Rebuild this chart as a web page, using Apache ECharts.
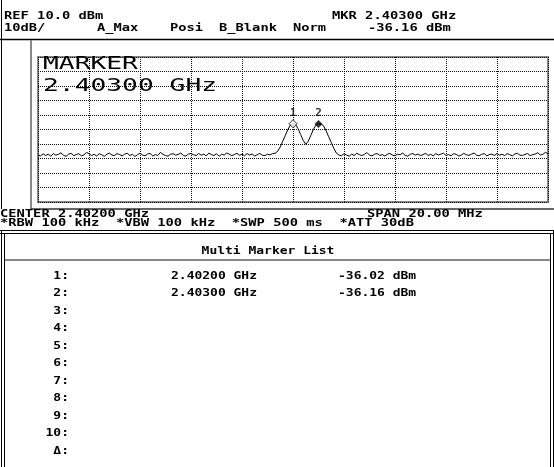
<!DOCTYPE html>
<html>
<head>
<meta charset="utf-8">
<script src="https://cdn.jsdelivr.net/npm/echarts@6/dist/echarts.min.js"></script>
<style>
html, body { margin: 0; padding: 0; background: #fff; }
#chart { width: 554px; height: 467px; }
</style>
</head>
<body>
<div id="chart"></div>
<script>
// sweep 2392 - 2412 MHz (center 2402, span 20 MHz), 201 points
var START_MHZ = 2392;
var STEP_MHZ = 0.1;
var trace_dbm = [
    -57.6, -58.2, -56.8, -57.9, -57.0, -58.4, -56.6, -57.7, -57.1, -56.1,
    -57.8, -58.5, -57.0, -56.5, -58.0, -57.3, -56.7, -58.1, -57.5, -55.9,
    -56.6, -58.0, -57.1, -58.3, -56.7, -57.4, -58.5, -57.0, -56.3, -57.6,
    -58.0, -56.6, -57.3, -58.2, -57.0, -56.4, -57.9, -57.1, -58.6, -57.4,
    -56.4, -57.6, -58.1, -56.9, -56.5, -58.2, -57.3, -57.9, -55.8, -57.1,
    -58.0, -58.4, -57.0, -56.7, -57.7, -57.2, -56.2, -57.9, -58.3, -56.9,
    -56.6, -57.4, -58.0, -56.5, -57.7, -57.0, -58.2, -56.3, -57.3, -57.9,
    -56.7, -58.5, -57.1, -57.6, -56.2, -57.0, -58.0, -57.3, -56.4, -57.8,
    -57.0, -58.1, -56.6, -57.6, -56.9, -58.3, -57.3, -56.5, -57.8, -58.0,
    -57.0, -57.5, -56.6,
    // two carriers
    -56.4, -55.0, -52.0, -48.0, -44.0, -40.0, -36.9, -35.8, -36.5, -39.5,
    -43.5, -47.5, -50.2, -48.0, -44.0, -40.0, -37.0, -36.0, -36.2, -37.5,
    -41.0, -45.0, -49.0, -53.0, -56.2,
    -57.6, -58.1, -56.7, -57.6, -58.4, -57.0, -57.9, -56.4, -57.3, -58.0,
    -57.1, -55.9, -57.7, -58.2, -57.0, -56.6, -57.9, -57.3, -58.3, -57.1,
    -56.5, -57.7, -58.1, -57.0, -57.4, -56.2, -57.9, -58.4, -57.1, -56.6,
    -57.7, -56.9, -58.0, -57.3, -56.4, -57.9, -57.1, -58.2, -56.6, -57.6,
    -57.0, -56.3, -57.9, -57.3, -58.1, -56.7, -57.1, -58.3, -57.6, -56.5,
    -57.4, -57.9, -57.0, -56.2, -57.7, -58.1, -57.1, -56.6, -58.2, -57.3,
    -57.0, -57.9, -56.5, -57.7, -57.1, -58.0, -56.6, -57.3, -58.2, -56.9,
    -56.4, -57.7, -57.9, -57.1, -56.6, -58.0, -57.3, -56.9, -56.0, -57.6,
    -57.1, -55.8, -56.6
];
var marker_names = ['1', '2'];
var marker_mhz = [2402.0, 2403.0];
var marker_dbm = [-36.02, -36.16];

var list_names = ['1:', '2:', '3:', '4:', '5:', '6:', '7:', '8:', '9:', '10:', '\u0394:'];
var list_freq = ['2.40200 GHz', '2.40300 GHz'];
var list_level = ['-36.02 dBm', '-36.16 dBm'];

var FONT = 'bold 11px "DejaVu Sans Mono", monospace';

// small text, widened like the instrument's bitmap font
function txt(s, x, y, align, sx) {
    return {
        type: 'text', x: x, y: y, scaleX: sx || 1.25, silent: true,
        style: {
            text: s, font: FONT, fill: '#000',
            textAlign: align || 'left', textVerticalAlign: 'middle',
            align: align || 'left', verticalAlign: 'middle'
        }
    };
}
function big(s, x, y) {
    return {
        type: 'text', x: x, y: y, scaleX: 1.46, silent: true,
        style: {
            text: s, font: '18px "DejaVu Sans Mono", monospace', fill: '#000',
            textVerticalAlign: 'middle', verticalAlign: 'middle'
        }
    };
}
function ln(x1, y1, x2, y2, color, w) {
    return {
        type: 'line', silent: true,
        shape: { x1: x1, y1: y1, x2: x2, y2: y2 },
        style: { stroke: color, lineWidth: w || 1 }
    };
}

var trace = [];
for (var i = 0; i < trace_dbm.length; i++) {
    trace.push([START_MHZ + i * STEP_MHZ, trace_dbm[i]]);
}
var markers = [];
for (var i = 0; i < marker_names.length; i++) {
    markers.push({
        name: marker_names[i],
        value: [marker_mhz[i], marker_dbm[i]],
        itemStyle: (i == 0) ? { color: '#fff', borderColor: '#000', borderWidth: 1 } : { color: '#000' }
    });
}

var elements = [
    // header
    txt('REF 10.0 dBm', 4, 16.5),
    txt('MKR 2.40300 GHz', 332, 16.5),
    txt('10dB/', 4, 28.5),
    txt('A_Max', 97, 28.5),
    txt('Posi', 170, 28.5),
    txt('B_Blank', 219, 28.5),
    txt('Norm', 293, 28.5),
    txt('-36.16 dBm', 368, 28.5),
    ln(0, 39.5, 554, 39.5, '#000', 1.5),
    ln(1.5, 0, 1.5, 209, '#000', 1),
    // trace panel frame
    ln(31, 40, 31, 209, '#888', 2),
    ln(31, 209, 554, 209, '#333', 1.5),
    // big marker readout
    big('MARKER', 43, 64),
    big('2.40300 GHz', 43, 86),
    // bottom annotations
    txt('CENTER 2.40200 GHz', 0, 214),
    txt('SPAN 20.00 MHz', 367, 214),
    txt('*RBW 100 kHz  *VBW 100 kHz  *SWP 500 ms  *ATT 30dB', 0, 223),
    // marker list box
    ln(0, 230.5, 554, 230.5, '#000', 1),
    ln(0, 233.5, 554, 233.5, '#000', 1),
    ln(1.5, 230, 1.5, 467, '#000', 1),
    ln(4.5, 233, 4.5, 467, '#000', 1),
    ln(550.5, 233, 550.5, 467, '#000', 1),
    ln(553.5, 230, 553.5, 467, '#000', 1),
    txt('Multi Marker List', 268, 251, 'center', 1.18),
    ln(5, 260, 550, 260, '#888', 2)
];
for (var i = 0; i < list_names.length; i++) {
    var y = 276 + i * 17.5;
    elements.push(txt(list_names[i], 69, y, 'right', 1.18));
    if (i < list_freq.length) {
        elements.push(txt(list_freq[i], 171, y, 'left', 1.18));
        elements.push(txt(list_level[i], 338, y, 'left', 1.18));
    }
}

var chart = echarts.init(document.getElementById('chart'));
option = {
    backgroundColor: '#fff',
    animation: false,
    grid: {
        show: true,
        left: 38,
        top: 57,
        width: 510,
        height: 145,
        borderColor: '#888',
        borderWidth: 2,
        backgroundColor: 'transparent'
    },
    xAxis: {
        type: 'value',
        min: 2392,
        max: 2412,
        interval: 2,
        axisLine: { show: false },
        axisTick: { show: false },
        axisLabel: { show: false },
        splitLine: { show: true, lineStyle: { color: '#111', type: 'dotted', width: 1 } }
    },
    yAxis: {
        type: 'value',
        min: -90,
        max: 10,
        interval: 10,
        axisLine: { show: false },
        axisTick: { show: false },
        axisLabel: { show: false },
        splitLine: { show: true, lineStyle: { color: '#111', type: 'dotted', width: 1 } }
    },
    series: [{
        name: 'trace',
        type: 'line',
        data: trace,
        showSymbol: false,
        lineStyle: { color: '#000', width: 1 },
        z: 3
    }, {
        name: 'markers',
        type: 'scatter',
        data: markers,
        symbol: 'diamond',
        symbolSize: 8,
        z: 4,
        label: {
            show: true,
            position: 'top',
            distance: 1,
            formatter: '{b}',
            color: '#000',
            fontSize: 11,
            fontWeight: 'bold',
            fontFamily: 'DejaVu Sans Mono'
        }
    }],
    graphic: { elements: elements }
};
chart.setOption(option);
</script>
</body>
</html>
